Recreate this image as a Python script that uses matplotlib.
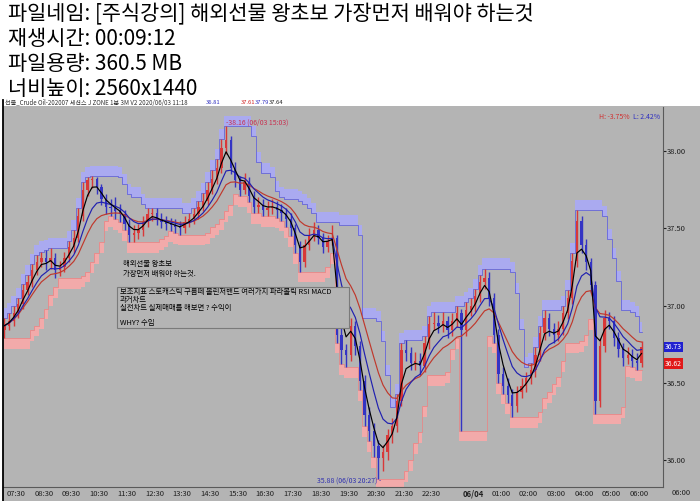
import matplotlib
matplotlib.use("Agg")
import matplotlib.pyplot as plt
import numpy as np
import pandas as pd
from matplotlib.lines import Line2D
from matplotlib.patches import Rectangle

plt.rcParams["font.family"] = ["Noto Sans CJK KR", "DejaVu Sans"]

W, H = 700, 501

info_lines = [
    "파일네임: [주식강의] 해외선물 왕초보 가장먼저 배워야 하는것",
    "재생시간: 00:09:12",
    "파일용량: 360.5 MB",
    "너비높이: 2560x1440",
]
chart_title = "선물_Crude Oil-202007 세션스 J ZONE 1분 3M V2 2020/06/03 11:18"
title_quotes = [("36.81", "#3030c0"), ("37.61", "#d02020"), ("37.79", "#3030c0"), ("37.64", "#202020")]

# 10 minute bars from 06/03 07:05 (minutes relative to 07:30)
first_bar_min = -25
bar_minutes = 10
first_open = 36.84
close = [
    36.87, 36.90, 36.95, 37.01, 37.10, 37.15, 37.23, 37.28, 37.31, 37.28,
    37.31, 37.23, 37.25, 37.31, 37.38, 37.44, 37.58, 37.75, 37.81, 37.82,
    37.77, 37.69, 37.64, 37.63, 37.61, 37.59, 37.53, 37.46, 37.47, 37.49,
    37.54, 37.59, 37.60, 37.56, 37.54, 37.53, 37.52, 37.51, 37.50, 37.54,
    37.56, 37.59, 37.64, 37.68, 37.75, 37.82, 37.89, 38.02, 38.07, 37.89,
    37.81, 37.75, 37.80, 37.71, 37.64, 37.65, 37.62, 37.63, 37.64, 37.62,
    37.60, 37.56, 37.50, 37.39, 37.28, 37.39, 37.45, 37.49, 37.44, 37.38,
    37.42, 37.44, 36.81, 36.71, 36.68, 36.87, 36.74, 36.51, 36.29, 36.19,
    36.09, 36.01, 36.05, 36.16, 36.22, 36.38, 36.71, 36.69, 36.63, 36.64,
    36.61, 36.76, 36.88, 36.89, 36.87, 36.90, 36.84, 36.90, 36.95, 36.84,
    36.97, 37.00, 37.06, 37.15, 37.18, 37.05, 36.81, 36.56, 36.48, 36.42,
    36.35, 36.44, 36.48, 36.53, 36.58, 36.68, 36.82, 36.92, 36.85, 36.81,
    36.85, 36.95, 37.05, 37.29, 37.55, 37.39, 37.28, 37.13, 36.38, 36.74,
    36.92, 36.90, 36.79, 36.72, 36.66, 36.68, 36.64, 36.63, 36.73,
]
high = [
    36.92, 36.95, 37.00, 37.05, 37.14, 37.20, 37.27, 37.33, 37.35, 37.36,
    37.37, 37.34, 37.29, 37.35, 37.42, 37.49, 37.63, 37.80, 37.83, 37.84,
    37.83, 37.79, 37.72, 37.69, 37.70, 37.66, 37.62, 37.56, 37.52, 37.53,
    37.58, 37.63, 37.63, 37.63, 37.60, 37.58, 37.57, 37.56, 37.55, 37.58,
    37.60, 37.63, 37.68, 37.73, 37.80, 37.88, 37.95, 38.08, 38.16, 38.10,
    37.93, 37.84, 37.86, 37.83, 37.74, 37.70, 37.69, 37.68, 37.69, 37.68,
    37.66, 37.63, 37.60, 37.53, 37.42, 37.43, 37.50, 37.54, 37.52, 37.47,
    37.46, 37.52, 37.46, 36.86, 36.75, 36.92, 36.90, 36.77, 36.55, 36.34,
    36.24, 36.13, 36.10, 36.20, 36.27, 36.43, 36.76, 36.78, 36.73, 36.70,
    36.69, 36.80, 36.93, 36.96, 36.94, 36.96, 36.93, 36.95, 37.00, 36.98,
    37.02, 37.05, 37.11, 37.20, 37.24, 37.22, 37.08, 36.85, 36.60, 36.53,
    36.46, 36.48, 36.53, 36.57, 36.63, 36.73, 36.87, 36.97, 36.95, 36.89,
    36.90, 37.00, 37.10, 37.34, 37.62, 37.58, 37.43, 37.31, 37.16, 36.79,
    36.97, 36.96, 36.93, 36.83, 36.76, 36.73, 36.72, 36.69, 36.77,
]
low = [
    36.79, 36.84, 36.87, 36.92, 36.98, 37.07, 37.12, 37.20, 37.25, 37.23,
    37.24, 37.18, 37.19, 37.22, 37.28, 37.34, 37.41, 37.55, 37.71, 37.76,
    37.72, 37.65, 37.59, 37.58, 37.56, 37.54, 37.49, 37.41, 37.41, 37.43,
    37.45, 37.51, 37.55, 37.52, 37.50, 37.49, 37.48, 37.47, 37.46, 37.47,
    37.51, 37.53, 37.56, 37.61, 37.65, 37.72, 37.79, 37.86, 37.98, 37.85,
    37.77, 37.71, 37.72, 37.67, 37.60, 37.60, 37.58, 37.58, 37.59, 37.57,
    37.55, 37.51, 37.45, 37.34, 37.22, 37.25, 37.36, 37.42, 37.40, 37.34,
    37.35, 37.39, 36.76, 36.62, 36.60, 36.64, 36.68, 36.45, 36.22, 36.12,
    36.02, 35.88, 35.93, 36.00, 36.11, 36.18, 36.35, 36.64, 36.58, 36.58,
    36.55, 36.57, 36.72, 36.84, 36.82, 36.83, 36.79, 36.80, 36.86, 36.19,
    36.80, 36.93, 36.96, 37.02, 37.11, 37.00, 36.76, 36.50, 36.43, 36.37,
    36.28, 36.31, 36.40, 36.44, 36.49, 36.54, 36.64, 36.78, 36.80, 36.76,
    36.77, 36.81, 36.91, 37.01, 37.25, 37.34, 37.23, 37.08, 36.30, 36.34,
    36.70, 36.85, 36.74, 36.67, 36.61, 36.62, 36.60, 36.58, 36.60,
]

y_ticks = [36.00, 36.50, 37.00, 37.50, 38.00]
x_tick_minutes = [0, 60, 120, 180, 240, 300, 360, 420, 480, 540, 600, 660, 720, 780, 840, 900,
                  990, 1050, 1110, 1170, 1230, 1290, 1350]
x_tick_labels = ["07:30", "08:30", "09:30", "10:30", "11:30", "12:30", "13:30", "14:30", "15:30",
                 "16:30", "17:30", "18:30", "19:30", "20:30", "21:30", "22:30",
                 "06/04", "01:00", "02:00", "03:00", "04:00", "05:00", "06:00"]

last_price = 36.73
last_red = 36.62
high_note = "38.16 (06/03 15:03)"
low_note = "35.88 (06/03 20:27) -"

memo_title = "해외선물 왕초보\n가장먼저 배워야 하는것."
memo_box = [
    "보조지표 스토캐스틱 구름떼 볼린저밴드 여러가지 파라볼릭 RSI MACD",
    "과거차트",
    "실전차트 실제매매를 해보면 ? 수익이",
    "",
    "WHY? 수입",
]

BG = "#b4b4b4"
UP = "#d83838"
DOWN = "#3434c4"


def fx(px):
    return px / W


def fy(py):
    return 1 - py / H


# derived series
c = pd.Series(close)
o = pd.Series([first_open] + close[:-1])
hi = pd.Series(high)
lo = pd.Series(low)
t = first_bar_min + bar_minutes * np.arange(len(close))

hh = hi.rolling(6, min_periods=1).max()
ll = lo.rolling(6, min_periods=1).min()
ma_fast = c.ewm(span=3).mean()
ma_mid = c.ewm(span=7).mean()
ma_slow = c.ewm(span=12).mean()

fig = plt.figure(figsize=(W / 100, H / 100), dpi=100)
fig.patch.set_facecolor("white")
fig.add_artist(Rectangle((fx(3), 0), fx(697), fy(106), transform=fig.transFigure,
                         facecolor=BG, edgecolor="none", zorder=-5))
fig.add_artist(Line2D([fx(3), fx(3)], [0, fy(100)], color="black", lw=1.3))

for i, line in enumerate(info_lines):
    fig.text(fx(8), fy(20 + 25 * i), line, fontsize=15, color="black", va="baseline")

fig.text(fx(5), fy(103), chart_title, fontsize=4.4, color="#303030", va="center")
for xq, (q, col) in zip([206, 241, 255, 269], title_quotes):
    fig.text(fx(xq), fy(103), q, fontsize=4.2, color=col, va="center")

ax = fig.add_axes([fx(3), fy(487), fx(660), (487 - 107) / H])
ax.set_facecolor(BG)
ax.set_xlim(-28.2, 1401.5)
ax.set_ylim(35.825, 38.286)

# price channel bands
ax.fill_between(t, hh, hh + 0.065, step="mid", color="#aaaaf0", lw=0, zorder=1)
ax.step(t, hh, where="mid", color="#6464dc", lw=0.6, zorder=1.5)
ax.fill_between(t, ll - 0.07, ll, step="mid", color="#f2aaaa", lw=0, zorder=1)
ax.step(t, ll, where="mid", color="#e48888", lw=0.6, zorder=1.5)

# candles
up = c >= o
cols = np.where(up, UP, DOWN)
ax.vlines(t, lo, hi, colors=cols, lw=1.0, zorder=2)
ax.bar(t, (c - o).abs().clip(lower=0.006), bottom=np.minimum(o, c), width=5,
       color=cols, lw=0, zorder=2)

# moving averages
ax.plot(t, ma_slow, color="#c0382c", lw=0.85, zorder=3)
ax.plot(t, ma_mid, color="#2020b0", lw=0.85, zorder=3)
ax.plot(t, ma_fast, color="black", lw=0.85, zorder=3.5)

# axes styling
for s in ("top", "left"):
    ax.spines[s].set_visible(False)
for s in ("right", "bottom"):
    ax.spines[s].set_color("#5a5a5a")
    ax.spines[s].set_linewidth(0.8)
ax.yaxis.tick_right()
ax.set_yticks(y_ticks)
ax.set_yticklabels([f"{v:.2f}" for v in y_ticks])
ax.tick_params(axis="y", labelsize=5.5, length=2, pad=1, colors="#202020")
ax.set_xticks(x_tick_minutes)
ax.set_xticklabels(x_tick_labels)
ax.tick_params(axis="x", labelsize=5.5, length=0, pad=2, colors="#202020")
for lab in ax.get_xticklabels():
    if lab.get_text() == "06/04":
        lab.set_fontweight("bold")

# extreme notes
k_hi = int(np.argmax(high))
k_lo = int(np.argmin(low))
ax.annotate("-" + high_note, (t[k_hi], high[k_hi]), xytext=(0, 2.5), textcoords="offset points",
            fontsize=5, color="#c83050", va="center", ha="left", zorder=5)
ax.annotate(low_note, (t[k_lo], low[k_lo]), xytext=(2, -1.5), textcoords="offset points",
            fontsize=5, color="#3030b0", va="center", ha="right", zorder=5)

fig.text(fx(660), fy(117), "L: 2.42%", fontsize=5, color="#3030c0", ha="right", va="center")
fig.text(fx(630), fy(117), "H: -3.75%", fontsize=5, color="#d03030", ha="right", va="center")
fig.text(fx(672), fy(493), "06:00", fontsize=5.5, color="#202020", va="center")

# last price boxes
for price, col in ((last_price, "#2020d0"), (last_red, "#e01818")):
    ypix = 151 + (38.0 - price) * 154
    fig.text(fx(665), fy(ypix), f"{price:.2f}", fontsize=5, color="white", va="center",
             bbox=dict(boxstyle="square,pad=0.15", fc=col, ec="none"))

# memo text and box
fig.text(fx(123), fy(269), memo_title, fontsize=5.3, color="black", va="center", linespacing=1.3)
fig.add_artist(Rectangle((fx(117), fy(328)), fx(232), (328 - 287) / H, transform=fig.transFigure,
                         facecolor=BG, edgecolor="#7a7a7a", lw=0.8, zorder=4))
for i, line in enumerate(memo_box):
    if line:
        fig.text(fx(120), fy(292 + 7.8 * i), line, fontsize=5.3, color="black", va="center", zorder=5)

fig.savefig("out.png", dpi=100, facecolor=fig.get_facecolor())
